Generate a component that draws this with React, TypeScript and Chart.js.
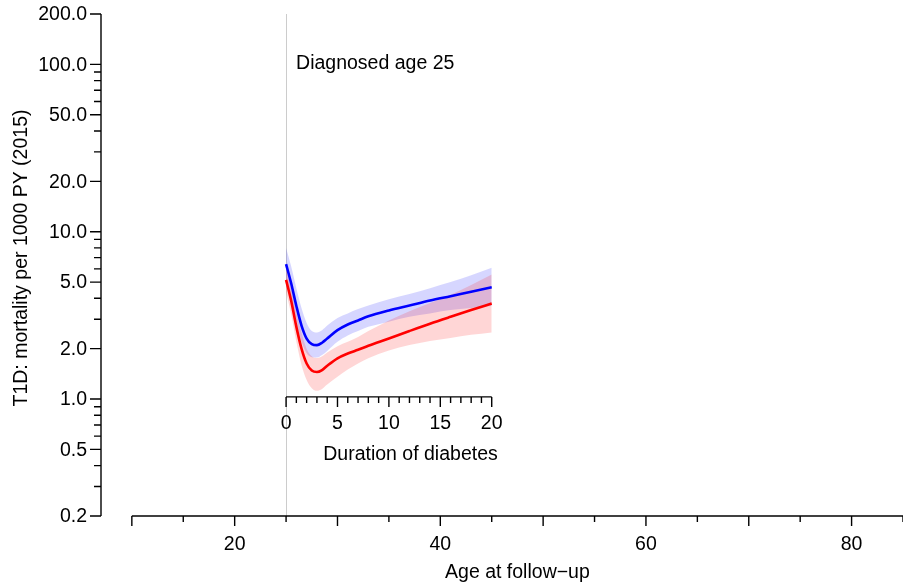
import React, { useEffect, useRef } from "react";
import { Chart, registerables } from "chart.js";

Chart.register(...registerables);

// ---- data ----
const ageAtDiagnosis = 25;
const durations = [0, 0.5, 1, 1.5, 2, 2.5, 3, 3.5, 4, 5, 6, 7, 8, 10, 12, 14, 16, 18, 20];

const blueRate = [6.4, 4.9, 3.6, 2.75, 2.3, 2.13, 2.1, 2.17, 2.3, 2.58, 2.79, 2.95, 3.12, 3.38, 3.62, 3.88, 4.12, 4.38, 4.65];
const blueUpper = [8.0, 6.2, 4.6, 3.5, 2.85, 2.55, 2.5, 2.58, 2.75, 3.05, 3.25, 3.45, 3.62, 3.95, 4.25, 4.6, 5.0, 5.5, 6.1];
const blueLower = [5.1, 3.9, 2.85, 2.2, 1.88, 1.78, 1.77, 1.83, 1.94, 2.2, 2.4, 2.55, 2.7, 2.9, 3.1, 3.25, 3.4, 3.5, 3.6];

const redRate = [5.15, 3.85, 2.7, 2.0, 1.63, 1.48, 1.45, 1.49, 1.58, 1.75, 1.87, 1.97, 2.08, 2.3, 2.55, 2.82, 3.1, 3.4, 3.72];
const redUpper = [6.1, 4.6, 3.3, 2.5, 2.0, 1.8, 1.76, 1.8, 1.9, 2.07, 2.2, 2.35, 2.55, 2.95, 3.35, 3.75, 4.2, 4.8, 5.55];
const redLower = [4.35, 3.2, 2.2, 1.6, 1.3, 1.16, 1.12, 1.15, 1.22, 1.36, 1.5, 1.63, 1.75, 1.95, 2.1, 2.22, 2.32, 2.42, 2.5];

const yMajorTicks = [0.2, 0.5, 1, 2, 5, 10, 20, 50, 100, 200];
const yTickLabels = ["0.2", "0.5", "1.0", "2.0", "5.0", "10.0", "20.0", "50.0", "100.0", "200.0"];
const yMinorTicks = [0.3, 0.4, 0.6, 0.7, 0.8, 0.9, 3, 4, 6, 7, 8, 9, 30, 40, 60, 70, 80, 90];

const xMajorTicks = [10, 20, 30, 40, 50, 60, 70, 80];
const xMinorTicks = [15, 25, 35, 45, 55, 65, 75, 85];
const xLabelValues = [20, 40, 60, 80];
const xTickLabels = ["20", "40", "60", "80"];

const durationMajorTicks = [0, 5, 10, 15, 20];
const durationTickLabels = ["0", "5", "10", "15", "20"];
const durationMinorTicks = [1, 2, 3, 4, 6, 7, 8, 9, 11, 12, 13, 14, 16, 17, 18, 19];
const durationAxisLevel = 1.03;

const yTitle = "T1D: mortality per 1000 PY (2015)";
const xTitle = "Age at follow\u2212up";
const durationTitle = "Duration of diabetes";
const annotation = "Diagnosed age 25";

const FONT = '19.5px "Liberation Sans", Arial, Helvetica, sans-serif';

const pts = (vals: number[]) => durations.map((d, i) => ({ x: ageAtDiagnosis + d, y: vals[i] }));

const axesPlugin = {
  id: "customAxes",
  beforeDatasetsDraw(chart: any) {
    const { ctx, scales } = chart;
    const x = scales.x, y = scales.y;
    const gx = Math.round(x.getPixelForValue(ageAtDiagnosis)) + 0.5;
    ctx.save();
    ctx.strokeStyle = "#cccccc";
    ctx.lineWidth = 1;
    ctx.beginPath();
    ctx.moveTo(gx, y.getPixelForValue(200));
    ctx.lineTo(gx, y.getPixelForValue(0.2));
    ctx.stroke();
    ctx.restore();
  },
  afterDatasetsDraw(chart: any) {
    const { ctx, scales, chartArea } = chart;
    const x = scales.x, y = scales.y;
    ctx.save();
    ctx.strokeStyle = "#000";
    ctx.fillStyle = "#000";
    ctx.lineWidth = 1.4;
    ctx.font = FONT;

    // Y axis
    const ax = chartArea.left;
    ctx.beginPath();
    ctx.moveTo(ax, y.getPixelForValue(200));
    ctx.lineTo(ax, y.getPixelForValue(0.2));
    ctx.stroke();
    ctx.beginPath();
    yMajorTicks.forEach((v) => {
      const py = y.getPixelForValue(v);
      ctx.moveTo(ax, py);
      ctx.lineTo(ax - 11, py);
    });
    yMinorTicks.forEach((v) => {
      const py = y.getPixelForValue(v);
      ctx.moveTo(ax, py);
      ctx.lineTo(ax - 7, py);
    });
    ctx.stroke();
    ctx.textAlign = "right";
    ctx.textBaseline = "middle";
    yMajorTicks.forEach((v, i) => {
      ctx.fillText(yTickLabels[i], ax - 14, y.getPixelForValue(v) + 1);
    });

    // X axis
    const by = chartArea.bottom;
    ctx.beginPath();
    ctx.moveTo(x.getPixelForValue(10), by);
    ctx.lineTo(chartArea.right, by);
    ctx.stroke();
    ctx.beginPath();
    xMajorTicks.forEach((v) => {
      const px = x.getPixelForValue(v);
      ctx.moveTo(px, by);
      ctx.lineTo(px, by + 10);
    });
    xMinorTicks.forEach((v) => {
      const px = x.getPixelForValue(v);
      ctx.moveTo(px, by);
      ctx.lineTo(px, by + 6);
    });
    ctx.stroke();
    ctx.textAlign = "center";
    xLabelValues.forEach((v, i) => {
      ctx.fillText(xTickLabels[i], x.getPixelForValue(v), by + 29);
    });
    ctx.fillText(xTitle, (x.getPixelForValue(10) + chartArea.right) / 2, by + 57);

    // Y title
    ctx.save();
    ctx.translate(22, 258);
    ctx.rotate(-Math.PI / 2);
    ctx.fillText(yTitle, 0, 0);
    ctx.restore();

    // Inner duration axis
    const dy = y.getPixelForValue(durationAxisLevel);
    ctx.beginPath();
    ctx.moveTo(x.getPixelForValue(ageAtDiagnosis), dy);
    ctx.lineTo(x.getPixelForValue(ageAtDiagnosis + 20), dy);
    durationMajorTicks.forEach((d) => {
      const px = x.getPixelForValue(ageAtDiagnosis + d);
      ctx.moveTo(px, dy);
      ctx.lineTo(px, dy + 10);
    });
    durationMinorTicks.forEach((d) => {
      const px = x.getPixelForValue(ageAtDiagnosis + d);
      ctx.moveTo(px, dy);
      ctx.lineTo(px, dy + 6);
    });
    ctx.stroke();
    durationMajorTicks.forEach((d, i) => {
      ctx.fillText(durationTickLabels[i], x.getPixelForValue(ageAtDiagnosis + d), dy + 27);
    });
    ctx.fillText(durationTitle, x.getPixelForValue(ageAtDiagnosis + 12.1), dy + 58);

    // annotation
    ctx.textAlign = "left";
    ctx.fillText(annotation, x.getPixelForValue(ageAtDiagnosis) + 10, y.getPixelForValue(100) - 1);

    ctx.restore();
  },
};

export default function App() {
  const canvasRef = useRef<HTMLCanvasElement>(null);

  useEffect(() => {
    if (!canvasRef.current) return;
    const common = { pointRadius: 0, cubicInterpolationMode: "monotone" as const };
    const chart = new Chart(canvasRef.current, {
      type: "line",
      data: {
        datasets: [
          { label: "blue upper", data: pts(blueUpper), borderWidth: 0, borderColor: "rgba(0,0,0,0)", backgroundColor: "rgba(0,0,255,0.16)", fill: "+1", order: 3, ...common },
          { label: "blue lower", data: pts(blueLower), borderWidth: 0, borderColor: "rgba(0,0,0,0)", fill: false, order: 3, ...common },
          { label: "red upper", data: pts(redUpper), borderWidth: 0, borderColor: "rgba(0,0,0,0)", backgroundColor: "rgba(255,0,0,0.16)", fill: "+1", order: 2, ...common },
          { label: "red lower", data: pts(redLower), borderWidth: 0, borderColor: "rgba(0,0,0,0)", fill: false, order: 2, ...common },
          { label: "blue", data: pts(blueRate), borderColor: "#0000ff", borderWidth: 2.6, fill: false, order: 1, ...common },
          { label: "red", data: pts(redRate), borderColor: "#ff0000", borderWidth: 2.6, fill: false, order: 1, ...common },
        ],
      },
      options: {
        animation: false,
        responsive: false,
        devicePixelRatio: 1,
        layout: { padding: { left: 101, right: 0, top: 14, bottom: 68 } },
        plugins: { legend: { display: false }, tooltip: { enabled: false } },
        events: [],
        scales: {
          x: { type: "linear", min: 7, max: 85, display: false },
          y: { type: "logarithmic", min: 0.2, max: 200, display: false },
        },
      },
      plugins: [axesPlugin],
    });
    return () => chart.destroy();
  }, []);

  return (
    <div style={{ position: "fixed", left: 0, top: 0, width: 903, height: 584, background: "#fff" }}>
      <canvas ref={canvasRef} width={903} height={584} style={{ display: "block" }} />
    </div>
  );
}
